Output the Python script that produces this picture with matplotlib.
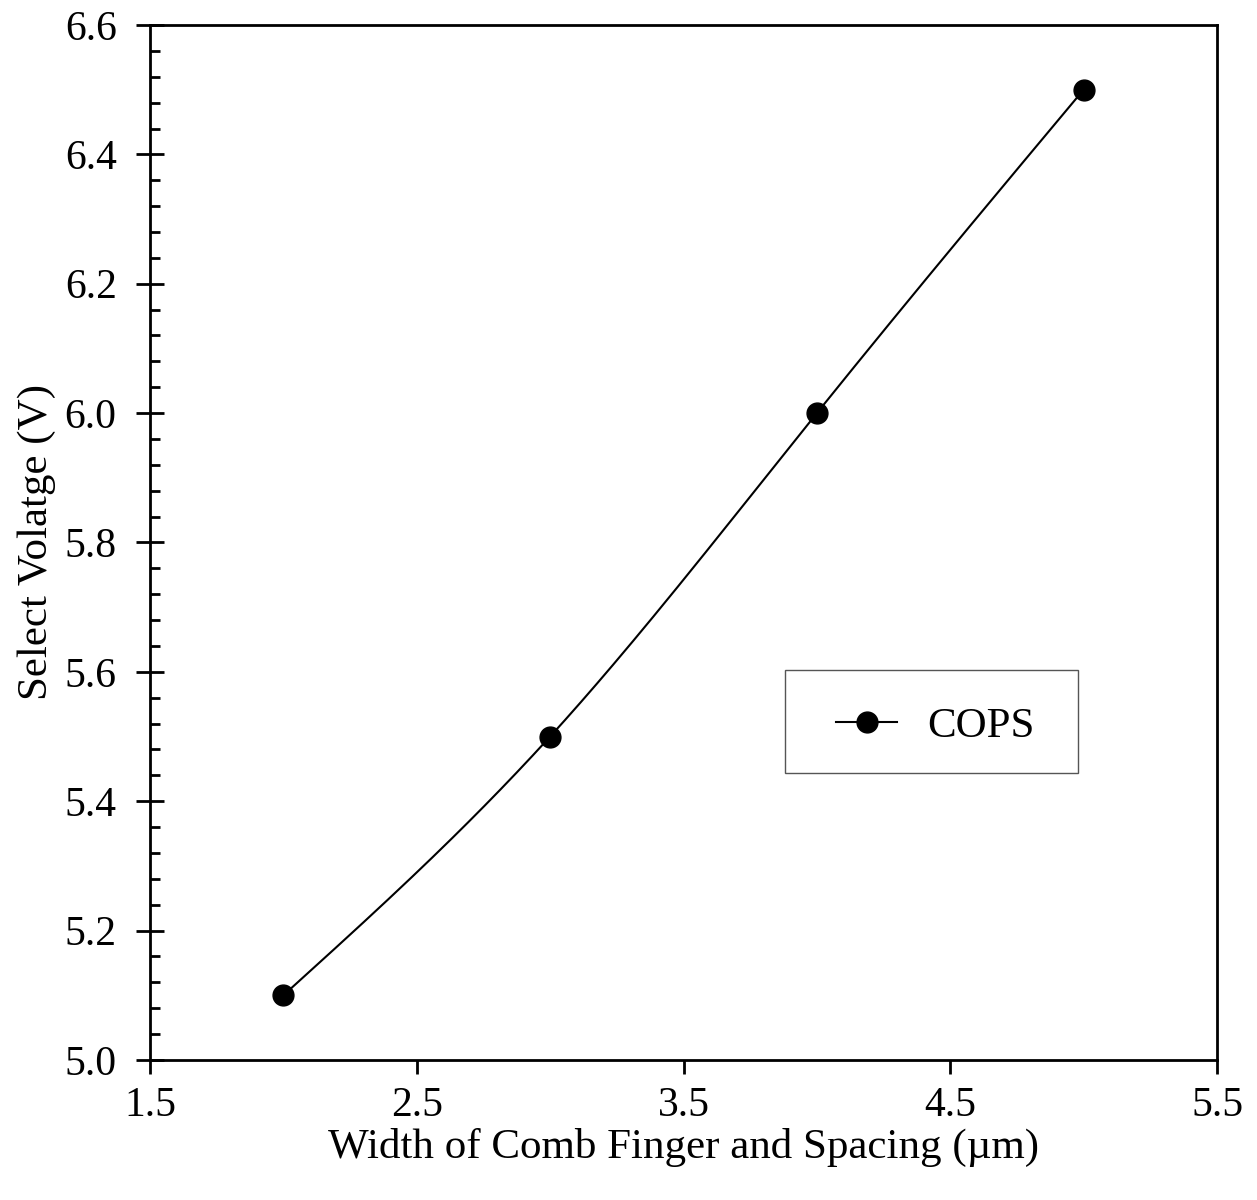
import numpy as np
import matplotlib
matplotlib.use('Agg')
import matplotlib.pyplot as plt
from matplotlib.ticker import MultipleLocator
from matplotlib.patches import Rectangle

width = [2.0, 3.0, 4.0, 5.0]
voltage = [5.1, 5.5, 6.0, 6.5]
x_ticks = [1.5, 2.5, 3.5, 4.5, 5.5]
y_ticks = [5.0, 5.2, 5.4, 5.6, 5.8, 6.0, 6.2, 6.4, 6.6]


def natural_spline(x, y, n=200):
    # natural cubic spline through the points, for the smooth line
    x = np.asarray(x, float)
    y = np.asarray(y, float)
    k = len(x)
    h = np.diff(x)
    A = np.zeros((k, k))
    b = np.zeros(k)
    A[0, 0] = A[-1, -1] = 1
    for i in range(1, k - 1):
        A[i, i - 1] = h[i - 1]
        A[i, i] = 2 * (h[i - 1] + h[i])
        A[i, i + 1] = h[i]
        b[i] = 6 * ((y[i + 1] - y[i]) / h[i] - (y[i] - y[i - 1]) / h[i - 1])
    M = np.linalg.solve(A, b)
    xs = np.linspace(x[0], x[-1], n)
    idx = np.clip(np.searchsorted(x, xs) - 1, 0, k - 2)
    x0, x1 = x[idx], x[idx + 1]
    hh = x1 - x0
    t0, t1 = x1 - xs, xs - x0
    ys = (M[idx] * t0**3 + M[idx + 1] * t1**3) / (6 * hh) \
        + (y[idx] / hh - M[idx] * hh / 6) * t0 \
        + (y[idx + 1] / hh - M[idx + 1] * hh / 6) * t1
    return xs, ys


plt.rcParams['font.family'] = ['Liberation Serif', 'DejaVu Serif']

fig = plt.figure(figsize=(12.57, 12), dpi=100)
ax = fig.add_axes([150 / 1257, 1 - 1060 / 1200, (1217 - 150) / 1257, (1060 - 25) / 1200])

xs, ys = natural_spline(width, voltage)
ax.plot(xs, ys, color='black', lw=1.5)
ax.plot(width, voltage, 'o', color='black', ms=15)
ax.plot([], [], '-o', color='black', lw=1.5, ms=15, label='COPS')

ax.set_xlim(1.5, 5.5)
ax.set_ylim(5.0, 6.6)
ax.set_xticks(x_ticks)
ax.set_xticklabels([f'{v:.1f}' for v in x_ticks])
ax.set_yticks(y_ticks)
ax.set_yticklabels([f'{v:.1f}' for v in y_ticks])
ax.yaxis.set_minor_locator(MultipleLocator(0.04))

for s in ax.spines.values():
    s.set_linewidth(2)
ax.tick_params(axis='x', which='major', direction='out', length=10, width=2,
               labelsize=30, pad=9)
ax.tick_params(axis='y', which='major', direction='inout', length=20, width=2,
               labelsize=30, pad=14)
ax.tick_params(axis='y', which='minor', direction='in', length=7, width=2)

ax.set_xlabel('Width of Comb Finger and Spacing (µm)', fontsize=31, labelpad=2)
ax.set_ylabel('Select Volatge (V)', fontsize=31, labelpad=6)

# legend frame drawn as its own box
ax.add_patch(Rectangle((0.5951, 0.2773), 0.8697 - 0.5951, 0.3768 - 0.2773,
                       transform=ax.transAxes, fill=False, edgecolor='#555555',
                       lw=1, zorder=4))
leg = ax.legend(loc='center', bbox_to_anchor=(0.736, 0.322), fontsize=31,
                frameon=False, handlelength=1.4, handletextpad=0.7)

fig.savefig('out.png', dpi=100)
